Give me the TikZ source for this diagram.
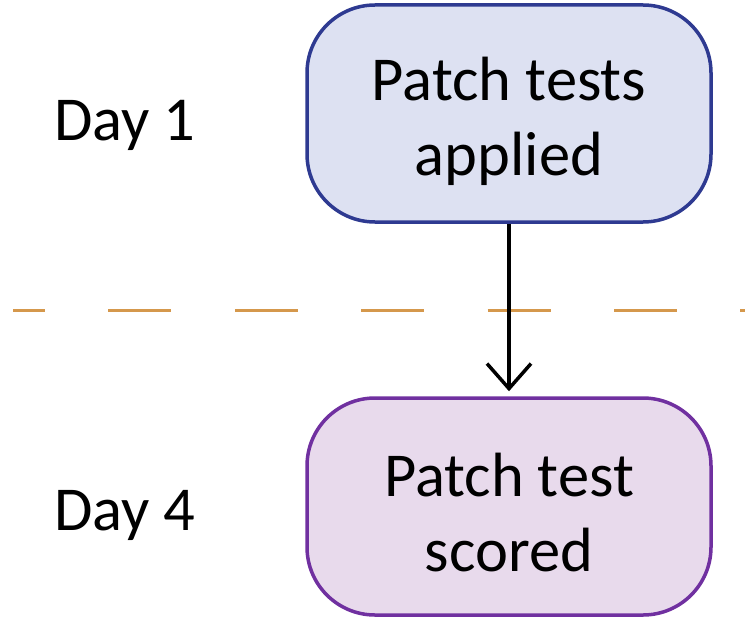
\documentclass[tikz,border=0pt]{standalone}
\usepackage{fontspec}
\setmainfont{Carlito}
\usetikzlibrary{arrows.meta}
\definecolor{dayblue}{RGB}{46,58,145}
\definecolor{dayblueFill}{RGB}{221,225,242}
\definecolor{daypurple}{RGB}{112,48,160}
\definecolor{daypurpleFill}{RGB}{232,218,236}
\definecolor{dashorange}{RGB}{213,152,76}

\begin{document}
\begin{tikzpicture}[x=1bp,y=-1bp]
    \tikzset{stepbox/.style = {shape=rectangle, rounded corners=68bp, line width=3.5bp, minimum width=404bp, minimum height=217bp, inner sep=0pt}}
    \tikzset{boxtext/.style = {align=center, font=\fontsize{62.5bp}{75bp}\selectfont}}
    \tikzset{daytext/.style = {anchor=base west, inner sep=0pt, font=\fontsize{62.5bp}{75bp}\selectfont}}
    \useasboundingbox (0,0) rectangle (745,619);
    % boxes
    \node[stepbox, draw=dayblue, fill=dayblueFill] (a) at (509,113.5) {};
    \node[stepbox, draw=daypurple, fill=daypurpleFill] (b) at (509,506.5) {};
    \node[boxtext] (at) at ([yshift=-8bp]a.center) {Patch tests\\applied};
    \node[boxtext] (bt) at ([yshift=-6bp]b.center) {Patch test\\scored};
    % days
    \node[daytext] (d1) at (54,141) {Day 1};
    \node[daytext] (d4) at (54,530) {Day 4};
    % divider
    \coordinate (l) at (13,310);
    \coordinate (r) at (745,310);
    \draw[dashorange, line width=3bp, dash pattern=on 63bp off 63.4bp, dash phase=31bp] (l) -- (r);
    % arrow
    \draw[black, line width=3.5bp, -{Straight Barb[length=25bp, width=44bp, line width=3.5bp]}, shorten >=5bp] (a.south) -- (b.north);
\end{tikzpicture}
\end{document}
